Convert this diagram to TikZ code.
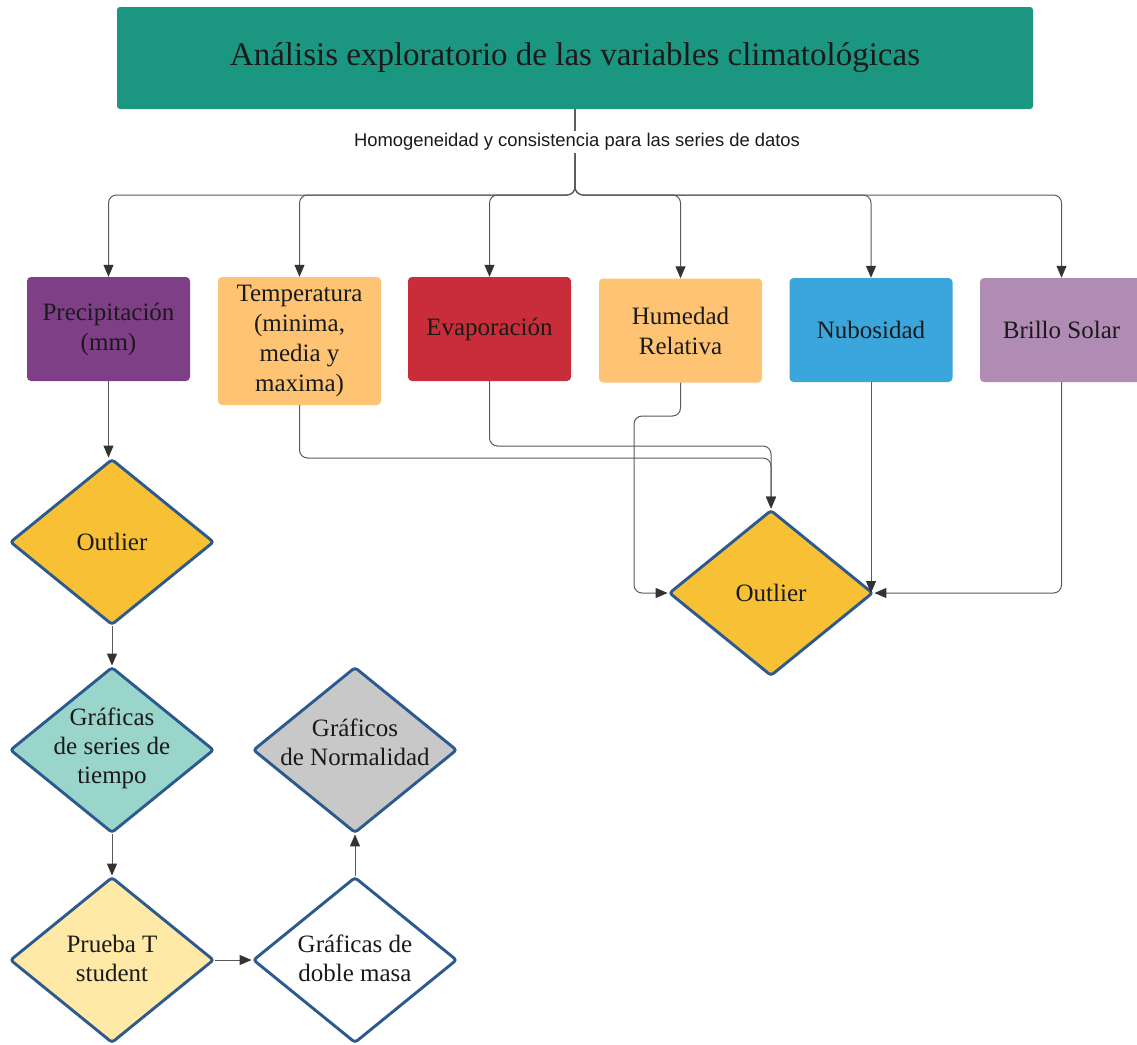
\documentclass[tikz,border=0pt]{standalone}
\usepackage{fontspec}
\setmainfont{Liberation Serif}
\newfontfamily\sansf{Liberation Sans}
\usetikzlibrary{shapes.geometric,arrows.meta}
\definecolor{ttlc}{HTML}{1B9680}
\definecolor{prec}{HTML}{7F3F87}
\definecolor{orng}{HTML}{FFC374}
\definecolor{evac}{HTML}{C92D39}
\definecolor{nubc}{HTML}{3AA6DC}
\definecolor{bric}{HTML}{B08CB4}
\definecolor{outc}{HTML}{F8C135}
\definecolor{serc}{HTML}{99D5CA}
\definecolor{pruc}{HTML}{FFE9A6}
\definecolor{norc}{HTML}{C8C8C8}
\definecolor{diab}{HTML}{2C5A8F}
\definecolor{lineg}{HTML}{5A5A5A}
\definecolor{tipc}{HTML}{333333}
\definecolor{txtc}{HTML}{1A1A1A}
\begin{document}
\begin{tikzpicture}[x=1pt,y=-1pt,
  vbox/.style={rectangle, rounded corners=4pt, minimum width=163pt, inner sep=0pt,
    align=center, text=txtc, font=\fontsize{25}{30}\selectfont},
  dia/.style={diamond, draw=diab, line width=2.9pt, minimum width=204pt, minimum height=166pt,
    inner sep=0pt, rounded corners=3pt},
  dtxt/.style={align=center, text=txtc, font=\fontsize{25}{29}\selectfont, inner sep=0pt},
  conn/.style={draw=lineg, line width=1pt, rounded corners=8pt},
  arr/.style={conn, -{Triangle[length=12pt,width=10pt,color=tipc,fill=tipc]}}]
\useasboundingbox (0,0) rectangle (1137,1044);
\clip (0,0) rectangle (1137,1044);
\fill[white] (0,0) rectangle (1137,1044);

% title
\node[rectangle, fill=ttlc, rounded corners=3pt, minimum width=916pt, minimum height=102pt,
  inner sep=0pt, text=txtc, font=\fontsize{33}{38}\selectfont] (ttl) at (575,58)
  {Análisis exploratorio de las variables climatológicas};

% variable boxes
\node[vbox, fill=prec, minimum height=104pt] (pre) at (108.5,329) {Precipitación\\(mm)};
\node[vbox, fill=orng, minimum height=128pt] (tem) at (299.5,341) {Temperatura\\(minima,\\media y\\maxima)};
\node[vbox, fill=evac, minimum height=104pt] (eva) at (489.5,329) {Evaporación};
\node[vbox, fill=orng, minimum height=104pt] (hum) at (680.5,330.5) {Humedad\\Relativa};
\node[vbox, fill=nubc, minimum height=104pt] (nub) at (871,330) {Nubosidad};
\node[vbox, fill=bric, minimum height=104pt] (bri) at (1061.5,330) {Brillo Solar};

% diamonds
\node[dia, fill=outc] (o1) at (112,542) {};
\node[dia, fill=serc] (ser) at (112,750) {};
\node[dia, fill=pruc] (pru) at (112,960) {};
\node[dia, fill=white] (dob) at (355,960) {};
\node[dia, fill=norc] (nor) at (355,750) {};
\node[dia, fill=outc] (o2) at (771,593) {};

\node[dtxt] (o1t) at (112,542) {Outlier};
\node[dtxt] (sert) at (112,748) {Gráficas\\de series de\\tiempo};
\node[dtxt] (prut) at (112,958) {Prueba T\\student};
\node[dtxt] (dobt) at (355,958) {Gráficas de\\doble masa};
\node[dtxt] (nort) at (355,742) {Gráficos\\de Normalidad};
\node[dtxt] (o2t) at (771,593) {Outlier};

% helper coordinates
\coordinate (br) at (0,195);
\coordinate (eq) at (0,446);
\coordinate (tq) at (0,458);
\coordinate (hq) at (634,416);

% branches from title
\draw[arr] (ttl.south) -- (ttl.south |- br) -| (pre.north);
\draw[arr] (ttl.south) -- (ttl.south |- br) -| (tem.north);
\draw[arr] (ttl.south) -- (ttl.south |- br) -| (eva.north);
\draw[arr] (ttl.south) -- (ttl.south |- br) -| (hum.north);
\draw[arr] (ttl.south) -- (ttl.south |- br) -| (nub.north);
\draw[arr] (ttl.south) -- (ttl.south |- br) -| (bri.north);

% left chain
\draw[arr] (pre.south) -- (pre.south |- o1.north);
\draw[arr] (o1.south) -- (ser.north);
\draw[arr] (ser.south) -- (pru.north);
\draw[arr] (pru.east) -- (dob.west);
\draw[arr] (dob.north) -- (nor.south);

% to right outlier
\draw[arr] (tem.south) -- (tem.south |- tq) -| (o2.north);
\draw[arr] (eva.south) -- (eva.south |- eq) -| (o2.north);
\draw[arr] (hum.south) -- (hum.south |- hq) -- (hq) |- (o2.west);
\draw[arr] (nub.south) -- (nub.south |- o2.east);
\draw[arr] (bri.south) |- (o2.east);

% label on trunk
\node[fill=white, inner sep=2pt, text=txtc, font=\sansf\fontsize{18.4}{21}\selectfont] (lbl) at (577,142)
  {Homogeneidad y consistencia para las series de datos};
\end{tikzpicture}
\end{document}
